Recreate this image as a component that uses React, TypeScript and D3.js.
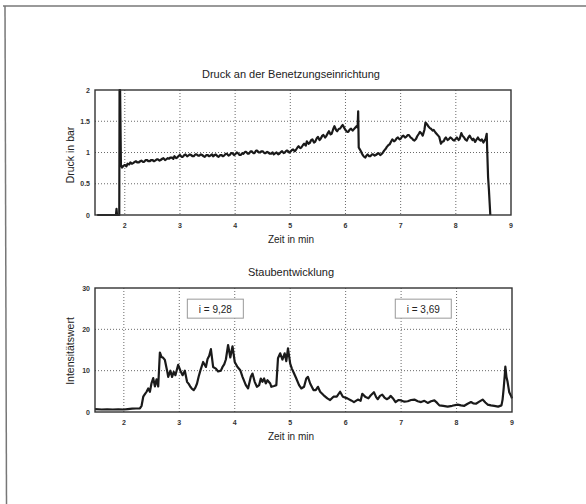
import * as d3 from "d3";

const FONT = "'Liberation Sans', Arial, sans-serif";

const xTicks = [2, 3, 4, 5, 6, 7, 8, 9];
const pressureTicks = [0, 0.5, 1, 1.5, 2];
const dustTicks = [0, 10, 20, 30];

// Druck an der Benetzungseinrichtung (Zeit in min, Druck in bar)
const pressureTime = [
  1.5, 1.84, 1.85, 1.86, 1.9, 1.905, 1.915, 1.93, 1.95, 1.98, 2.0, 2.03, 2.05, 2.08, 2.1, 2.13, 2.15, 2.18,
  2.2, 2.23, 2.25, 2.28, 2.3, 2.33, 2.35, 2.38, 2.4, 2.43, 2.45, 2.48, 2.5, 2.53, 2.55, 2.58, 2.6, 2.63,
  2.65, 2.68, 2.7, 2.73, 2.75, 2.78, 2.8, 2.83, 2.85, 2.88, 2.9, 2.93, 2.95, 2.98, 3.0, 3.03, 3.05, 3.08,
  3.1, 3.13, 3.15, 3.18, 3.2, 3.23, 3.25, 3.28, 3.3, 3.33, 3.35, 3.38, 3.4, 3.43, 3.45, 3.48, 3.5, 3.53,
  3.55, 3.58, 3.6, 3.63, 3.65, 3.68, 3.7, 3.73, 3.75, 3.78, 3.8, 3.83, 3.85, 3.88, 3.9, 3.93, 3.95, 3.98,
  4.0, 4.03, 4.05, 4.08, 4.1, 4.13, 4.15, 4.18, 4.2, 4.23, 4.25, 4.28, 4.3, 4.33, 4.35, 4.38, 4.4, 4.43,
  4.45, 4.48, 4.5, 4.53, 4.55, 4.58, 4.6, 4.63, 4.65, 4.68, 4.7, 4.73, 4.75, 4.78, 4.8, 4.83, 4.85, 4.88,
  4.9, 4.93, 4.95, 4.98, 5.0, 5.03, 5.05, 5.08, 5.1, 5.13, 5.15, 5.18, 5.2, 5.23, 5.25, 5.28, 5.3, 5.33,
  5.35, 5.38, 5.4, 5.43, 5.45, 5.48, 5.5, 5.53, 5.55, 5.58, 5.6, 5.63, 5.65, 5.68, 5.7, 5.73, 5.75, 5.78,
  5.8, 5.83, 5.85, 5.88, 5.9, 5.93, 5.95, 5.98, 6.0, 6.03, 6.05, 6.08, 6.1, 6.13, 6.15, 6.18, 6.2, 6.22,
  6.23, 6.24, 6.26, 6.28, 6.3, 6.32, 6.34, 6.36, 6.38, 6.4, 6.43, 6.45, 6.48, 6.5, 6.53, 6.55, 6.58, 6.6,
  6.63, 6.65, 6.68, 6.7, 6.73, 6.75, 6.78, 6.8, 6.83, 6.85, 6.88, 6.9, 6.93, 6.95, 6.98, 7.0, 7.03, 7.05,
  7.08, 7.1, 7.13, 7.15, 7.18, 7.2, 7.23, 7.25, 7.28, 7.3, 7.33, 7.35, 7.38, 7.4, 7.43, 7.45, 7.48, 7.5,
  7.53, 7.55, 7.58, 7.6, 7.63, 7.65, 7.68, 7.7, 7.73, 7.75, 7.78, 7.8, 7.82, 7.85, 7.87, 7.9, 7.92, 7.95,
  7.97, 8.0, 8.02, 8.05, 8.07, 8.1, 8.12, 8.15, 8.17, 8.2, 8.22, 8.25, 8.27, 8.3, 8.32, 8.35, 8.37, 8.4,
  8.42, 8.45, 8.47, 8.5, 8.52, 8.54, 8.56, 8.57, 8.585, 8.6, 8.625,
];
const pressureValue = [
  0, 0, 0.1, 0, 0, 2.0, 2.0, 0.8, 0.76, 0.79, 0.8, 0.78, 0.82, 0.81, 0.84, 0.82, 0.83, 0.85,
  0.86, 0.84, 0.84, 0.86, 0.87, 0.85, 0.85, 0.88, 0.88, 0.86, 0.86, 0.88, 0.88, 0.86, 0.87, 0.89, 0.89, 0.87,
  0.88, 0.9, 0.91, 0.88, 0.89, 0.91, 0.9, 0.92, 0.92, 0.9, 0.94, 0.91, 0.92, 0.95, 0.96, 0.93, 0.93, 0.96,
  0.97, 0.94, 0.95, 0.97, 0.96, 0.94, 0.94, 0.97, 0.97, 0.95, 0.95, 0.97, 0.96, 0.94, 0.93, 0.96, 0.96, 0.94,
  0.95, 0.97, 0.94, 0.96, 0.97, 0.94, 0.93, 0.96, 0.96, 0.94, 0.95, 0.98, 0.98, 0.95, 0.96, 0.99, 0.99, 0.96,
  0.97, 1.0, 0.99, 0.96, 0.96, 0.99, 0.98, 1.01, 1.01, 0.98, 0.98, 1.02, 1.02, 0.99, 0.99, 1.03, 1.03, 1.0,
  1.0, 1.02, 1.02, 0.99, 0.99, 1.01, 1.0, 0.98, 0.98, 1.0, 0.97, 0.99, 1.0, 0.97, 0.98, 1.01, 1.02, 0.99,
  1.0, 1.03, 1.03, 1.0, 1.01, 1.04, 1.05, 1.02, 1.04, 1.08, 1.1, 1.07, 1.08, 1.12, 1.14, 1.11, 1.18, 1.14,
  1.15, 1.2, 1.21, 1.16, 1.17, 1.23, 1.25, 1.2, 1.22, 1.27, 1.28, 1.24, 1.26, 1.31, 1.34, 1.29, 1.3, 1.38,
  1.42, 1.36, 1.34, 1.38, 1.38, 1.42, 1.44, 1.39, 1.36, 1.33, 1.33, 1.37, 1.38, 1.35, 1.37, 1.4, 1.42, 1.4,
  1.66, 1.08, 1.05, 1.02, 0.98, 0.95, 0.93, 0.92, 0.95, 0.97, 0.94, 0.94, 0.97, 0.97, 0.95, 0.96, 0.98, 0.99,
  0.96, 0.97, 1.0, 1.03, 1.06, 1.09, 1.12, 1.13, 1.18, 1.21, 1.18, 1.19, 1.23, 1.24, 1.21, 1.22, 1.26, 1.27,
  1.24, 1.25, 1.28, 1.28, 1.24, 1.23, 1.2, 1.19, 1.22, 1.26, 1.3, 1.33, 1.3, 1.27, 1.36, 1.48, 1.45, 1.42,
  1.39, 1.38, 1.35, 1.36, 1.32, 1.3, 1.27, 1.25, 1.14, 1.17, 1.18, 1.22, 1.24, 1.2, 1.21, 1.24, 1.23, 1.2,
  1.19, 1.22, 1.24, 1.2, 1.22, 1.31, 1.27, 1.24, 1.21, 1.19, 1.23, 1.27, 1.24, 1.2, 1.22, 1.17, 1.2, 1.24,
  1.21, 1.19, 1.21, 1.16, 1.19, 1.22, 1.3, 1.0, 0.6, 0.4, 0,
];

// Staubentwicklung (Zeit in min, Intensitätswert)
const dustTime = [
  1.48, 1.6, 1.7, 1.8, 1.9, 2.0, 2.07, 2.15, 2.22, 2.29, 2.32, 2.35, 2.38, 2.41, 2.44, 2.47, 2.5, 2.53,
  2.56, 2.59, 2.62, 2.65, 2.68, 2.71, 2.74, 2.78, 2.8, 2.84, 2.87, 2.9, 2.93, 2.98, 3.02, 3.06, 3.1, 3.14,
  3.17, 3.2, 3.23, 3.26, 3.29, 3.32, 3.35, 3.38, 3.43, 3.48, 3.51, 3.54, 3.57, 3.61, 3.66, 3.7, 3.75, 3.78,
  3.81, 3.84, 3.88, 3.92, 3.96, 4.0, 4.05, 4.1, 4.14, 4.2, 4.24, 4.29, 4.32, 4.36, 4.4, 4.44, 4.47, 4.5,
  4.53, 4.56, 4.59, 4.64, 4.66, 4.71, 4.75, 4.78, 4.82, 4.86, 4.9, 4.93, 4.96, 5.0, 5.03, 5.07, 5.11, 5.16,
  5.2, 5.25, 5.29, 5.32, 5.36, 5.42, 5.46, 5.5, 5.54, 5.6, 5.67, 5.72, 5.78, 5.84, 5.9, 5.95, 6.03, 6.1,
  6.15, 6.22, 6.27, 6.3, 6.36, 6.41, 6.45, 6.51, 6.55, 6.58, 6.62, 6.66, 6.7, 6.74, 6.78, 6.81, 6.86, 6.9,
  6.95, 7.0, 7.06, 7.12, 7.18, 7.24, 7.3, 7.36, 7.42, 7.48, 7.54, 7.6, 7.65, 7.69, 7.76, 7.84, 7.92, 8.02,
  8.08, 8.14, 8.2, 8.26, 8.3, 8.35, 8.41, 8.47, 8.52, 8.56, 8.62, 8.68, 8.75, 8.81, 8.83, 8.85, 8.87, 8.88,
  8.9, 8.92, 8.95, 8.98, 9.0,
];
const dustValue = [
  0.7, 0.6, 0.65, 0.6, 0.65, 0.6, 0.7, 0.8, 0.85, 0.9, 1.5, 3.7, 4.3, 4.9, 5.7, 4.9, 7.0, 8.2,
  6.2, 7.9, 6.2, 14.4, 13.3, 13.1, 12.6, 10.0, 8.5, 10.0, 8.5, 9.7, 8.9, 11.4, 10.0, 8.9, 10.0, 7.3,
  6.8, 6.1, 5.6, 5.3, 5.9, 6.9, 8.6, 10.0, 12.1, 10.9, 12.8, 13.6, 15.2, 10.9, 10.5, 9.8, 10.0, 10.9,
  11.5, 12.7, 16.2, 13.2, 15.9, 12.1, 10.9, 10.1, 8.5, 6.5, 5.7, 8.5, 9.3, 7.3, 6.1, 6.5, 8.1, 7.3,
  8.1, 6.9, 7.7, 6.9, 6.1, 6.3, 6.5, 13.0, 14.2, 12.7, 14.2, 12.3, 15.4, 11.7, 10.5, 9.3, 8.1, 6.5,
  5.7, 6.1, 8.1, 8.5, 6.9, 5.3, 5.3, 6.1, 4.9, 4.1, 3.3, 2.9, 3.7, 3.7, 4.9, 3.7, 3.3, 2.8,
  2.4, 3.0, 2.7, 4.4, 3.6, 3.3, 4.0, 4.8, 3.6, 3.1, 3.9, 4.2, 3.5, 3.1, 3.4, 3.9, 3.2, 2.4,
  2.9, 2.8, 2.5, 2.6, 2.9, 3.0, 2.6, 2.4, 2.7, 2.2, 2.6, 2.8, 2.2, 1.6, 1.5, 1.3, 1.5, 1.8,
  1.6, 1.5, 2.0, 2.4, 2.1, 2.0, 2.5, 3.0, 2.3, 1.8, 1.6, 1.5, 1.3, 1.6, 3.0, 5.7, 9.0, 11.0,
  8.5, 7.3, 4.8, 4.0, 3.3,
];

const annotations = [
  { t: 3.65, label: "i = 9,28" },
  { t: 7.4, label: "i = 3,69" },
];

type PanelProps = {
  left: number;
  right: number;
  top: number;
  bottom: number;
  xDomain: [number, number];
  yTicks: number[];
  times: number[];
  values: number[];
  title: string;
  yLabel: string;
  yLabelMid: number;
  children?: (x: d3.ScaleLinear<number, number>, y: d3.ScaleLinear<number, number>) => React.ReactNode;
};

function Panel({ left, right, top, bottom, xDomain, yTicks, times, values, title, yLabel, yLabelMid, children }: PanelProps) {
  const x = d3.scaleLinear().domain(xDomain).range([left, right]);
  const y = d3
    .scaleLinear()
    .domain([yTicks[0], yTicks[yTicks.length - 1]])
    .range([bottom, top]);
  const pts = times.map((t, i) => [t, values[i]] as [number, number]);
  const line = d3
    .line<[number, number]>()
    .x((d) => x(d[0]))
    .y((d) => y(d[1]));

  return (
    <g>
      <text x={291} y={top - 12} textAnchor="middle" fontSize={11} fill="#222" fontFamily={FONT}>
        {title}
      </text>
      {xTicks.slice(0, -1).map((t) => (
        <line key={"gx" + t} x1={x(t)} x2={x(t)} y1={top} y2={bottom} stroke="#444" strokeWidth={0.8} strokeDasharray="1,2" />
      ))}
      {yTicks.slice(1, -1).map((v) => (
        <line key={"gy" + v} x1={left} x2={right} y1={y(v)} y2={y(v)} stroke="#444" strokeWidth={0.8} strokeDasharray="1,2" />
      ))}
      {children && children(x, y)}
      <path d={line(pts) || ""} fill="none" stroke="#1a1a1a" strokeWidth={2.2} strokeLinejoin="round" />
      <rect x={left} y={top} width={right - left} height={bottom - top} fill="none" stroke="#333" strokeWidth={1.4} />
      {xTicks.map((t) => (
        <text key={"tx" + t} x={x(t)} y={bottom + 13} textAnchor="middle" fontSize={7} fontWeight="bold" fill="#333" fontFamily={FONT}>
          {t}
        </text>
      ))}
      {yTicks.map((v) => (
        <text key={"ty" + v} x={left - 5} y={y(v) + 2.5} textAnchor="end" fontSize={7} fontWeight="bold" fill="#333" fontFamily={FONT}>
          {v}
        </text>
      ))}
      <text x={291} y={bottom + 28} textAnchor="middle" fontSize={10} fill="#222" fontFamily={FONT}>
        Zeit in min
      </text>
      <text
        transform={`translate(74,${yLabelMid}) rotate(-90)`}
        textAnchor="middle"
        fontSize={10.5}
        fill="#222"
        fontFamily={FONT}
      >
        {yLabel}
      </text>
    </g>
  );
}

export default function App() {
  return (
    <svg width={586} height={504} style={{ position: "absolute", left: 0, top: 0, background: "#fff" }}>
      <rect x={0} y={0} width={586} height={504} fill="#fff" />
      <line x1={3} x2={586} y1={6} y2={6} stroke="#777" strokeWidth={1.5} />
      <line x1={5} x2={6.5} y1={6} y2={504} stroke="#777" strokeWidth={1.5} />
      <Panel
        left={95}
        right={511}
        top={90}
        bottom={215}
        xDomain={[1.46, 9]}
        yTicks={pressureTicks}
        times={pressureTime}
        values={pressureValue}
        title="Druck an der Benetzungseinrichtung"
        yLabel="Druck in bar"
        yLabelMid={155}
      />
      <Panel
        left={95}
        right={512}
        top={288}
        bottom={412}
        xDomain={[1.48, 9]}
        yTicks={dustTicks}
        times={dustTime}
        values={dustValue}
        title="Staubentwicklung"
        yLabel="Intensitätswert"
        yLabelMid={351}
      >
        {(x, y) =>
          annotations.map((a) => (
            <g key={a.label}>
              <rect x={x(a.t) - 28} y={y(27.3)} width={56} height={19} fill="#fff" stroke="#999" strokeWidth={1} />
              <text x={x(a.t)} y={y(27.3) + 13.5} textAnchor="middle" fontSize={10} fill="#222" fontFamily={FONT}>
                {a.label}
              </text>
            </g>
          ))
        }
      </Panel>
    </svg>
  );
}
